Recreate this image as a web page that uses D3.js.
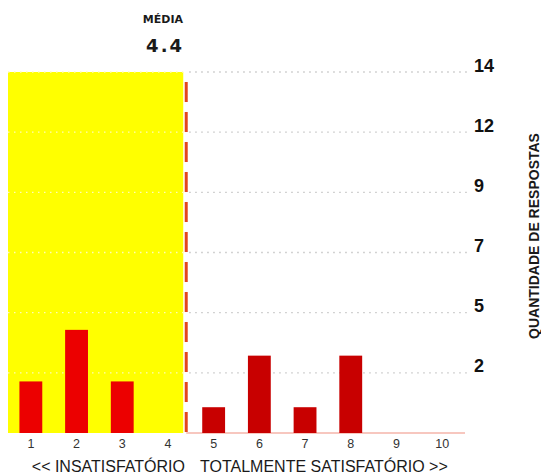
<!DOCTYPE html>
<html>
<head>
<meta charset="utf-8">
<script src="https://cdn.jsdelivr.net/npm/d3@7"></script>
<style>
  html, body { margin: 0; padding: 0; background: #fff; }
  svg { display: block; }
</style>
</head>
<body>
<svg id="chart" width="541" height="476"></svg>
<script>
// ---- data ----
const categories = ["1", "2", "3", "4", "5", "6", "7", "8", "9", "10"];
const responses = [2, 4, 2, 0, 1, 3, 1, 3, 0, 0];
const meanValue = 4.4;
const meanLabel = "4.4";
const meanTitle = "MÉDIA";
const yMax = 14;
const yTickLabels = ["2", "5", "7", "9", "12", "14"];
const yTitle = "QUANTIDADE DE RESPOSTAS";
const leftLabel = "<< INSATISFATÓRIO";
const rightLabel = "TOTALMENTE SATISFATÓRIO >>";

// ---- layout ----
const svg = d3.select("#chart");
const plot = { left: 8, right: 465, top: 72, bottom: 433 };

const x = d3.scaleBand()
  .domain(categories)
  .range([plot.left, plot.right])
  .paddingInner(0.5)
  .paddingOuter(0.25);

const y = d3.scaleLinear().domain([0, yMax]).range([plot.bottom, plot.top]);

const step = x.step();
const center = c => x(c) + x.bandwidth() / 2;
// position of the mean on the category axis (categories are 1..10)
const xMean = center("4") + (meanValue - 4) * step;

const tickValues = yTickLabels.map((_, i) => yMax * (i + 1) / yTickLabels.length);

// yellow "insatisfatório" area
svg.append("rect")
  .attr("x", plot.left)
  .attr("y", y(yMax))
  .attr("width", xMean - 3 - plot.left)
  .attr("height", y(0) - y(yMax))
  .attr("fill", "#ffff00");

// gridlines (pale over yellow, grey on white)
const grid = svg.append("g");
tickValues.forEach(v => {
  grid.append("line")
    .attr("x1", plot.left).attr("x2", xMean - 3)
    .attr("y1", y(v)).attr("y2", y(v))
    .attr("stroke", "#fffbb8")
    .attr("stroke-width", 1.3)
    .attr("stroke-dasharray", "1.5,4.5");
  grid.append("line")
    .attr("x1", xMean + 3).attr("x2", 467)
    .attr("y1", y(v)).attr("y2", y(v))
    .attr("stroke", "#c4c4c4")
    .attr("stroke-width", 1.3)
    .attr("stroke-dasharray", "1.5,4.5");
});

// baseline on the right part
svg.append("line")
  .attr("x1", xMean).attr("x2", plot.right)
  .attr("y1", y(0)).attr("y2", y(0))
  .attr("stroke", "#f4b4aa")
  .attr("stroke-width", 1.5);

// bars
svg.append("g").selectAll("rect")
  .data(categories.map((c, i) => ({ c, v: responses[i] })))
  .join("rect")
  .attr("x", d => x(d.c))
  .attr("y", d => y(d.v))
  .attr("width", x.bandwidth())
  .attr("height", d => y(0) - y(d.v))
  .attr("fill", d => center(d.c) < xMean ? "#ec0000" : "#c80000");

// mean dashed line
svg.append("line")
  .attr("x1", xMean).attr("x2", xMean)
  .attr("y1", y(yMax)).attr("y2", y(0))
  .attr("stroke", "#e2461c")
  .attr("stroke-width", 3)
  .attr("stroke-dasharray", "20,10")
  .attr("stroke-dashoffset", 20);

// right axis tick labels
const yAxis = d3.axisRight(y)
  .tickValues(tickValues)
  .tickFormat((d, i) => yTickLabels[i])
  .tickSize(0)
  .tickPadding(0);
const yg = svg.append("g").attr("transform", "translate(474,0)").call(yAxis);
yg.select(".domain").remove();
yg.selectAll("text")
  .attr("dy", "0")
  .attr("y", -1)
  .attr("x", 0)
  .attr("fill", "#111")
  .style("font-family", "Liberation Sans, Arial, sans-serif")
  .style("font-size", "18px")
  .style("font-weight", "bold");

// bottom category labels
const xAxis = d3.axisBottom(x).tickSize(0).tickPadding(0);
const xg = svg.append("g").attr("transform", `translate(0,${plot.bottom})`).call(xAxis);
xg.select(".domain").remove();
xg.selectAll("text")
  .attr("dy", "0")
  .attr("y", 15)
  .attr("fill", "#333")
  .style("font-family", "Liberation Sans, Arial, sans-serif")
  .style("font-size", "12.5px");

// bottom descriptive labels
svg.append("text")
  .attr("x", 185).attr("y", 472)
  .attr("text-anchor", "end")
  .attr("fill", "#1a1a1a")
  .style("font-family", "Liberation Sans, Arial, sans-serif")
  .style("font-size", "16px")
  .text(leftLabel);
svg.append("text")
  .attr("x", 200).attr("y", 472)
  .attr("text-anchor", "start")
  .attr("fill", "#1a1a1a")
  .style("font-family", "Liberation Sans, Arial, sans-serif")
  .style("font-size", "16px")
  .text(rightLabel);

// y title
svg.append("text")
  .attr("transform", "translate(539,236) rotate(-90)")
  .attr("text-anchor", "middle")
  .attr("fill", "#1a1a1a")
  .style("font-family", "Liberation Sans, Arial, sans-serif")
  .style("font-size", "14px")
  .style("font-weight", "bold")
  .text(yTitle);

// mean annotation
svg.append("text")
  .attr("x", 183).attr("y", 23)
  .attr("text-anchor", "end")
  .attr("fill", "#1a1a1a")
  .style("font-family", "DejaVu Sans, sans-serif")
  .style("font-size", "11px")
  .style("font-weight", "bold")
  .text(meanTitle);
svg.append("text")
  .attr("x", 184).attr("y", 52)
  .attr("text-anchor", "end")
  .attr("fill", "#1a1a1a")
  .style("font-family", "DejaVu Sans, sans-serif")
  .style("font-size", "18px")
  .style("font-weight", "bold")
  .style("letter-spacing", "2px")
  .text(meanLabel);
</script>
</body>
</html>
